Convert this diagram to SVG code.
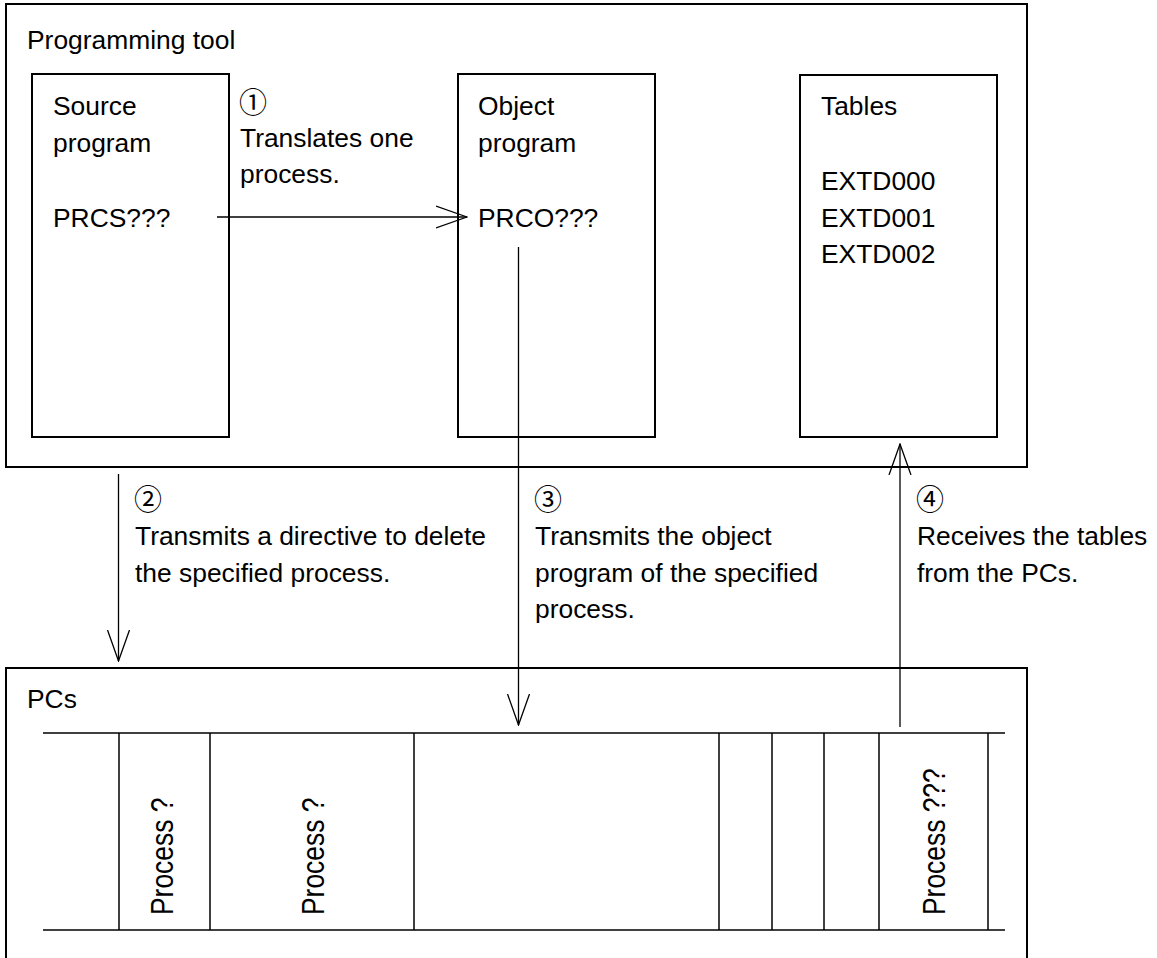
<svg xmlns="http://www.w3.org/2000/svg" width="1157" height="958" viewBox="0 0 1157 958">
  <style>
    .box { fill: none; stroke: #000; stroke-width: 2; }
    .cell { fill: none; stroke: #000; stroke-width: 1.5; }
    .flow { fill: none; stroke: #000; stroke-width: 1.3; }
    text { font-family: "Liberation Sans", Arial, sans-serif; font-size: 26.4px; fill: #000; }
    .num { font-family: "Noto Sans CJK JP", "DejaVu Sans", sans-serif; font-size: 28px; }
  </style>
  <defs>
    <marker id="vhead" markerUnits="userSpaceOnUse" viewBox="0 0 32 24" refX="31" refY="12" markerWidth="32" markerHeight="24" orient="auto">
      <path d="M0,1 L31,12 L0,23" fill="none" stroke="#000" stroke-width="1.3"/>
    </marker>
  </defs>

  <rect width="1157" height="958" fill="#fff"/>

  <!-- Programming tool container -->
  <g id="programming-tool">
    <rect class="box" x="6" y="4" width="1021" height="463"/>
    <text x="27" y="49">Programming tool</text>
  </g>

  <g id="source-program">
    <rect class="box" x="32" y="74" width="197" height="363"/>
    <text x="53" y="115">Source</text>
    <text x="53" y="152">program</text>
    <text x="53" y="227">PRCS???</text>
  </g>

  <g id="object-program">
    <rect class="box" x="458" y="74" width="197" height="363"/>
    <text x="478" y="115">Object</text>
    <text x="478" y="152">program</text>
    <text x="478" y="227">PRCO???</text>
  </g>

  <g id="tables">
    <rect class="box" x="800" y="75" width="197" height="362"/>
    <text x="821" y="115">Tables</text>
    <text x="821" y="190">EXTD000</text>
    <text x="821" y="227">EXTD001</text>
    <text x="821" y="263">EXTD002</text>
  </g>

  <!-- PCs container with process slots -->
  <g id="pcs">
    <rect class="box" x="6" y="668" width="1021" height="320"/>
    <text x="27" y="708">PCs</text>
    <g class="cell">
      <line x1="43" y1="733" x2="1005" y2="733"/>
      <line x1="43" y1="930" x2="1005" y2="930"/>
      <line x1="119" y1="733" x2="119" y2="930"/>
      <line x1="210" y1="733" x2="210" y2="930"/>
      <line x1="414" y1="733" x2="414" y2="930"/>
      <line x1="719" y1="733" x2="719" y2="930"/>
      <line x1="772" y1="733" x2="772" y2="930"/>
      <line x1="824" y1="733" x2="824" y2="930"/>
      <line x1="879" y1="733" x2="879" y2="930"/>
      <line x1="988" y1="733" x2="988" y2="930"/>
    </g>
    <text transform="translate(173,915) rotate(-90) scale(1,1.17)">Process ?</text>
    <text transform="translate(324,915) rotate(-90) scale(1,1.17)">Process ?</text>
    <text transform="translate(945,915) rotate(-90) scale(1,1.17)">Process ???</text>
  </g>

  <!-- Connectors and their step labels -->
  <g id="connectors">
    <line class="flow" x1="217" y1="217" x2="467" y2="217" marker-end="url(#vhead)"/>
    <line class="flow" x1="118.5" y1="474" x2="118.5" y2="661" marker-end="url(#vhead)"/>
    <line class="flow" x1="518.5" y1="247" x2="518.5" y2="725" marker-end="url(#vhead)"/>
    <line class="flow" x1="900" y1="727" x2="900" y2="444" marker-end="url(#vhead)"/>

    <text class="num" x="239" y="113">①</text>
    <text x="240" y="147">Translates one</text>
    <text x="240" y="183">process.</text>

    <text class="num" x="134" y="510">②</text>
    <text x="135" y="545">Transmits a directive to delete</text>
    <text x="135" y="582">the specified process.</text>

    <text class="num" x="534" y="510">③</text>
    <text x="535" y="545">Transmits the object</text>
    <text x="535" y="582">program of the specified</text>
    <text x="535" y="618">process.</text>

    <text class="num" x="916" y="510">④</text>
    <text x="917" y="545">Receives the tables</text>
    <text x="917" y="582">from the PCs.</text>
  </g>
</svg>
